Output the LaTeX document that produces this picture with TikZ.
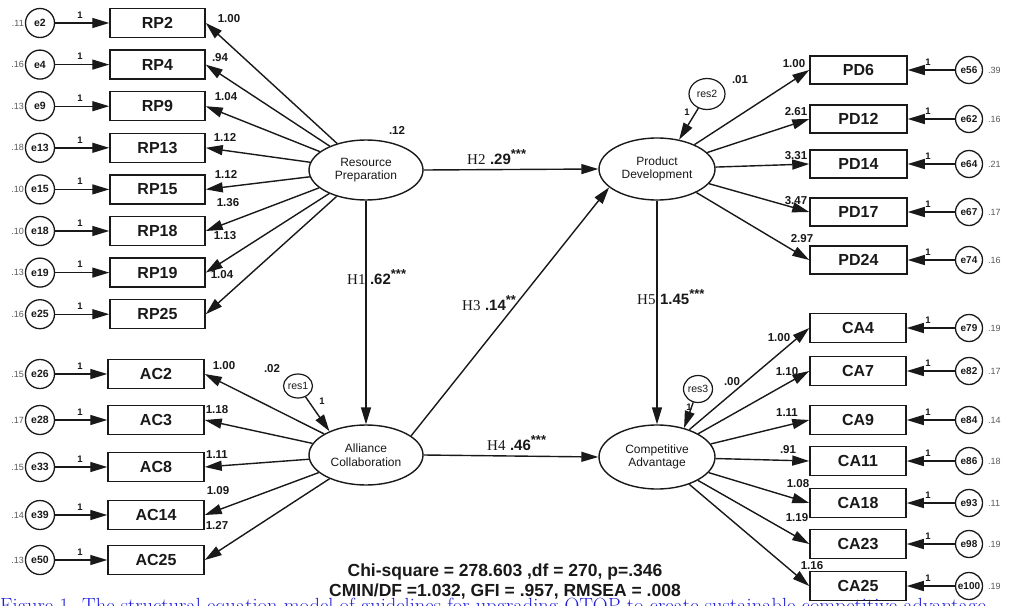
\documentclass[tikz,border=0pt]{standalone}
\usepackage{fontspec}
\usetikzlibrary{arrows.meta,shapes.geometric}
\newfontfamily\af{Liberation Sans}
\newfontfamily\tf{Liberation Serif}
\definecolor{capblue}{RGB}{30,30,220}
\definecolor{ink}{RGB}{25,25,25}
\newcommand\hyp[3]{{\tf #1} {\af\bfseries #2}\raisebox{0.35em}{\af\bfseries\fontsize{13}{13}\selectfont #3}}
\begin{document}
\begin{tikzpicture}[x=1pt,y=-1pt,
  obs/.style={draw=ink, line width=1.5pt, minimum width=95pt, minimum height=29pt, inner sep=0pt, text=ink, font=\af\bfseries\fontsize{16}{16}\selectfont},
  err/.style={draw=ink, circle, line width=1.3pt, minimum size=29pt, inner sep=0pt, text=ink, font=\af\bfseries\fontsize{10.5}{11}\selectfont},
  errr/.style={err, minimum size=27pt, font=\af\bfseries\fontsize{10}{11}\selectfont},
  lat/.style={draw=ink, ellipse, line width=1.4pt, minimum width=114pt, minimum height=60pt, inner sep=0pt, align=center, text=ink, font=\af\fontsize{12}{13.5}\selectfont},
  resn/.style={draw=ink, ellipse, line width=1.2pt, inner sep=0pt, text=ink, font=\af\fontsize{10.5}{11}\selectfont},
  arr/.style={draw=ink, -{Triangle[length=17pt,width=10pt]}, line width=1.4pt},
  lbl/.style={font=\af\bfseries\fontsize{11.5}{12}\selectfont, inner sep=0pt, text=ink},
  one/.style={font=\af\bfseries\fontsize{9.5}{9.5}\selectfont, inner sep=0pt, text=ink},
  varl/.style={font=\af\fontsize{9}{9}\selectfont, text=black!65, inner sep=0pt},
  hypl/.style={font=\fontsize{15}{15}\selectfont, inner sep=0pt, anchor=west, text=ink}
]
\useasboundingbox (0,0) rectangle (1009,605);
\fill[white] (0,0) rectangle (1009,605);
\clip (0,0) rectangle (1009,605);

% latent variables
\node[lat] (rp) at (366,170) {Resource\\Preparation};
\node[lat] (ac) at (366,455) {Alliance\\Collaboration};
\node[lat, minimum width=116pt, minimum height=62pt] (pd) at (657,169) {Product\\Development};
\node[lat, minimum width=116pt, minimum height=64pt] (ca) at (657,457) {Competitive\\Advantage};

% residuals
\node[resn, minimum width=29pt, minimum height=24pt] (res1) at (298,386) {res1};
\node[resn, minimum width=36pt, minimum height=31pt] (res2) at (707,94) {res2};
\node[resn, minimum width=29pt, minimum height=27pt] (res3) at (698,389) {res3};
\draw[arr] (res1) -- (ac.147);
\draw[arr] (res2) -- (pd.53);
\draw[arr] (res3) -- (ca.47);
\node[one] at (322,401) {1};
\node[one] at (687,112) {1};
\node[one] at (689,407) {1};
\node[lbl] at (397,130) {.12};
\node[lbl] at (272,369) {.02};
\node[lbl] at (740,80) {.01};
\node[lbl] at (732,382) {.00};

% structural paths
\draw[arr] (rp.east) -- (pd.west);
\draw[arr] (rp.south) -- (ac.north);
\draw[arr] (ac.23) -- (pd.201);
\draw[arr] (ac.east) -- (ca.west);
\draw[arr] (pd.south) -- (ca.north);
\node[hypl] at (467,157) {\hyp{H2}{.29}{***}};
\node[hypl] at (347,277) {\hyp{H1}{.62}{***}};
\node[hypl] at (462,303) {\hyp{H3}{.14}{**}};
\node[hypl] at (487,443) {\hyp{H4}{.46}{***}};
\node[hypl] at (637,297) {\hyp{H5}{1.45}{***}};

% Resource Preparation indicators
\foreach \nb/\y/\va/\lab/\lx/\ly in {2/23/.11/1.00/229/19, 4/64.6/.16/.94/220/58, 9/106.2/.13/1.04/226/97, 13/147.8/.18/1.12/225/137, 15/189.4/.10/1.12/226/174, 18/231/.10/1.36/228/203, 19/272.6/.13/1.13/225/236, 25/314.2/.16/1.04/222/275}{
  \node[obs] (rp\nb) at (157.5,\y) {RP\nb};
  \node[err] (e\nb) at (40,\y) {e\nb};
  \draw[arr] (e\nb) -- (rp\nb.west);
  \draw[arr] (rp) -- (rp\nb.east);
  \node[lbl] at (\lx,\ly) {\lab};
  \node[varl, anchor=east] at (24,\y) {\va};
  \node[one] at (80,\y-8) {1};
}

% Alliance Collaboration indicators
\foreach \nb/\er/\y/\va/\lab/\lx/\ly in {2/26/374/.15/1.00/224/366, 3/28/420/.17/1.18/217/410, 8/33/467/.15/1.11/217/455, 14/39/515/.14/1.09/218/491, 25/50/560/.13/1.27/217/525}{
  \node[obs, minimum width=96pt] (ac\nb) at (156,\y) {AC\nb};
  \node[err] (e\er) at (40,\y) {e\er};
  \draw[arr] (e\er) -- (ac\nb.west);
  \draw[arr] (ac) -- (ac\nb.east);
  \node[lbl] at (\lx,\ly) {\lab};
  \node[varl, anchor=east] at (24,\y) {\va};
  \node[one] at (80,\y-8) {1};
}

% Product Development indicators
\foreach \nb/\er/\y/\va/\lab/\lx/\ly in {6/56/70/.39/1.00/794/64, 12/62/119/.16/2.61/796/112, 14/64/164/.21/3.31/796/156, 17/67/212/.17/3.47/796/201, 24/74/260/.16/2.97/802/239}{
  \node[obs, minimum width=97pt, minimum height=28pt] (pd\nb) at (858.5,\y) {PD\nb};
  \node[errr] (e\er) at (969,\y) {e\er};
  \draw[arr] (e\er) -- (pd\nb.east);
  \draw[arr] (pd) -- (pd\nb.west);
  \node[lbl] at (\lx,\ly) {\lab};
  \node[varl, anchor=west] at (988,\y) {\va};
  \node[one] at (928,\y-8) {1};
}

% Competitive Advantage indicators
\foreach \nb/\er/\y/\va/\lab/\lx/\ly in {4/79/328/.19/1.00/779/338, 7/82/371/.17/1.10/787/372, 9/84/420/.14/1.11/787/413, 11/86/461/.18/.91/788/450, 18/93/503/.11/1.08/798/484, 23/98/544/.19/1.19/797/518, 25/100/586/.19/1.16/812/566}{
  \node[obs, minimum width=96pt] (ca\nb) at (858,\y) {CA\nb};
  \node[errr] (e\er) at (969,\y) {e\er};
  \draw[arr] (e\er) -- (ca\nb.east);
  \draw[arr] (ca) -- (ca\nb.west);
  \node[lbl] at (\lx,\ly) {\lab};
  \node[varl, anchor=west] at (988,\y) {\va};
  \node[one] at (928,\y-8) {1};
}

% fit statistics
\node[align=center, inner sep=0pt, text=ink, font=\af\bfseries\fontsize{17.5}{20}\selectfont] (fit) at (505,582) {Chi-square = 278.603 ,df = 270, p=.346\\CMIN/DF =1.032, GFI = .957, RMSEA = .008};

% cut-off caption
\node[anchor=base west, inner sep=0pt, text=capblue, font=\fontsize{20.5}{22}\selectfont] (cap) at (0,612.5) {Figure 1. The structural equation model of guidelines for upgrading OTOP to create sustainable competitive advantage};
\end{tikzpicture}
\end{document}
